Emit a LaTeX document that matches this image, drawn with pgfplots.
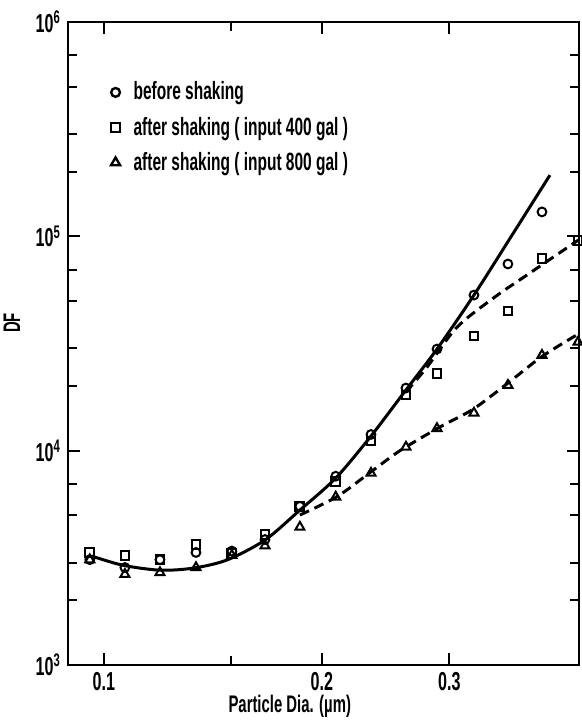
\documentclass[border=0pt]{standalone}
\usepackage{pgfplots}
\pgfplotsset{compat=1.18}
\usepackage{fontspec}
\setmainfont{Liberation Sans}[FakeStretch=0.62]

\begin{document}
\begin{tikzpicture}
\useasboundingbox (-34pt,-27.5pt) rectangle (257pt,332.5pt);
\begin{axis}[
    scale only axis,
    width=255.5pt, height=321.5pt,
    xmode=log, ymode=log,
    xmin=0.0892, xmax=0.453,
    ymin=1e3, ymax=1e6,
    xtick={0.1,0.2,0.3},
    xticklabels={0.1,0.2,0.3},
    minor xtick={0.15},
    ytick={1e3,1e4,1e5,1e6},
    yticklabels={10\textsuperscript{3},10\textsuperscript{4},10\textsuperscript{5},10\textsuperscript{6}},
    minor ytick={2e3,3e3,5e3,7e3,2e4,3e4,5e4,7e4,2e5,3e5,5e5,7e5},
    tick align=inside,
    major tick length=6pt, minor tick length=4.5pt,
    every tick/.style={black, line width=1pt},
    axis line style={line width=1pt},
    ticklabel style={font=\bfseries\fontsize{13}{14}\selectfont},
    xlabel={Particle Dia. (µm)},
    ylabel={DF},
    label style={font=\bfseries\fontsize{12}{13}\selectfont},
    xlabel style={at={(axis description cs:0.434,0)}, anchor=center, yshift=-20.5pt},
    ylabel style={at={(axis description cs:-0.11,0.532)}, anchor=center},
    legend style={draw=none, fill=none, at={(axis description cs:0.061,0.92)},
        anchor=north west, font=\bfseries\fontsize{12.5}{13}\selectfont,
        row sep=3pt},
    legend cell align=left,
    legend image code/.code={
        \path[draw=none] (0pt,0pt) -- (12pt,0pt);
        \draw[#1, line width=1.2pt] plot[only marks] coordinates {(5pt,0pt)};
    },
    mark size=2.2pt,
]

% measured points
\addplot[only marks, mark=o, line width=1pt] coordinates {
    (0.0956,3100) (0.1069,2850) (0.1195,3100) (0.134,3350) (0.1502,3400)
    (0.1669,3850) (0.1865,5500) (0.209,7600) (0.2338,11900) (0.2613,19600)
    (0.2884,29800) (0.3244,53200) (0.3614,74300) (0.4027,130000)
};
\addlegendentry{before shaking}
\addplot[only marks, mark=square, line width=1pt] coordinates {
    (0.0956,3350) (0.1069,3250) (0.1195,3100) (0.134,3650) (0.1502,3300)
    (0.1669,4050) (0.1865,5500) (0.209,7200) (0.2338,11100) (0.2613,18200)
    (0.2884,23000) (0.3244,34300) (0.3614,44800) (0.4027,79000) (0.4516,96000)
};
\addlegendentry{after shaking ( input 400 gal )}
\addplot[only marks, mark=triangle, mark size=2.6pt, line width=1pt] coordinates {
    (0.0956,3100) (0.1069,2650) (0.1195,2700) (0.134,2850) (0.1502,3250)
    (0.1669,3600) (0.1865,4400) (0.209,6080) (0.2338,7860) (0.2613,10400)
    (0.2884,12700) (0.3244,15000) (0.3614,20200) (0.4027,27900) (0.4516,32100)
};
\addlegendentry{after shaking ( input 800 gal )}

% fitted curves
\addplot[smooth, line width=1.5pt, forget plot] coordinates {
    (0.0963,3220) (0.1062,2920) (0.1195,2770) (0.1327,2830) (0.1479,3090)
    (0.1669,3830) (0.1865,5280) (0.209,7450) (0.2338,11700) (0.2613,19200)
    (0.2884,29800) (0.3244,53200) (0.366,101000) (0.413,193000)
};
\addplot[smooth, line width=1.5pt, dash pattern=on 5pt off 3pt, forget plot] coordinates {
    (0.2613,18800) (0.2793,24500) (0.3074,37700) (0.3467,52100)
    (0.384,66000) (0.452,96000)
};
\addplot[smooth, line width=1.5pt, dash pattern=on 5pt off 3pt, forget plot] coordinates {
    (0.1865,5010) (0.2098,6100) (0.233,7900) (0.2564,10000) (0.2912,12900)
    (0.3234,15600) (0.3603,20500) (0.4027,27500) (0.452,35000)
};
\end{axis}
\end{tikzpicture}
\end{document}
